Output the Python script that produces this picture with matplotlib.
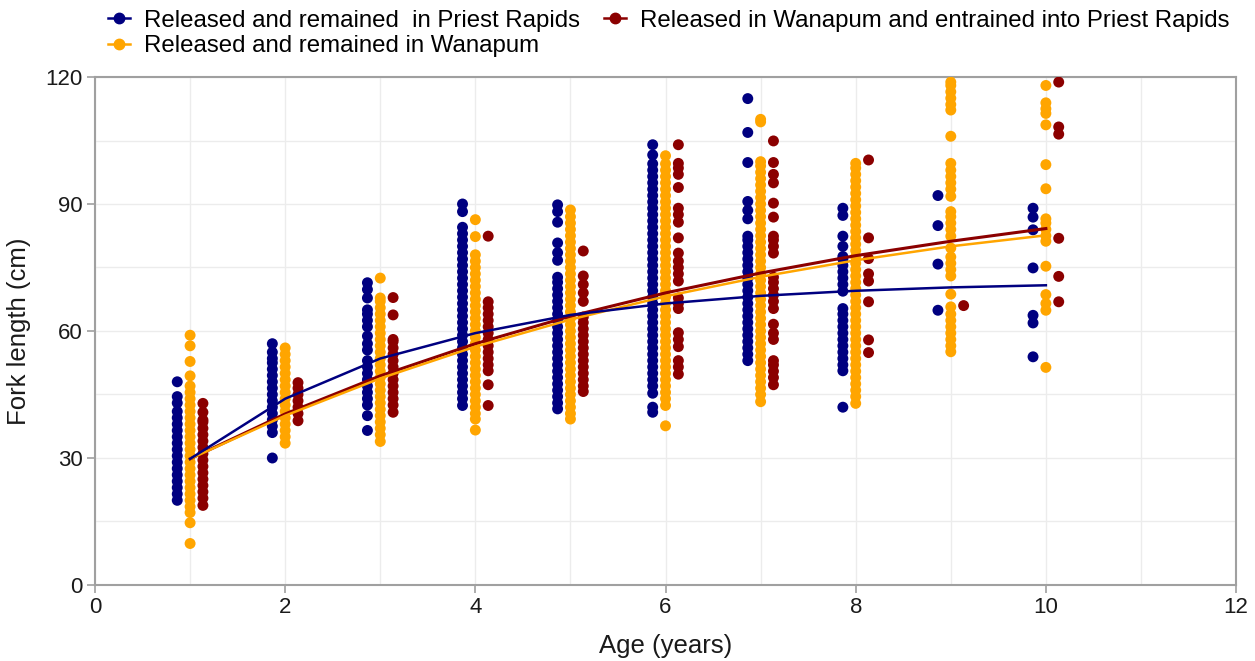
import matplotlib
matplotlib.use("Agg")
import matplotlib.pyplot as plt
from matplotlib.lines import Line2D

plt.rcParams['font.family'] = ['Liberation Sans', 'DejaVu Sans']

ages = [1, 2, 3, 4, 5, 6, 7, 8, 9, 10]

# Fork lengths (cm) per age
priest_rapids = [
    [20, 21.5, 23, 24.5, 26, 27.5, 29, 30.5, 32, 33.5, 35, 36.5, 38, 39.5, 41, 43, 44.5, 48],
    [30, 36, 37.5, 39, 40.5, 42, 43.5, 45, 46.5, 48, 49.5, 51, 52.5, 53.5, 55, 57],
    [36.5, 40, 42.5, 44, 45.5, 47, 48.5, 50, 51.5, 53, 55.5, 57, 58.8, 61, 62.5, 64, 65, 67.8, 69.8, 71.4],
    [42.4, 44, 45.5, 47, 48.5, 50, 51.5, 53, 54.5, 56, 57.5, 59, 60.5, 62, 63.5, 65, 66.5, 68, 69.5,
     71, 72.5, 74, 75.5, 77, 78.5, 80, 81.5, 83, 84.5, 88.2, 90],
    [41.6, 43, 44.5, 46, 47.5, 49, 50.5, 52, 53.5, 55, 56.5, 58, 59.5, 61, 62.5, 64, 65.5, 67, 68.5,
     70, 71.5, 72.7, 76.7, 78.5, 80.8, 85.7, 88.2, 89.8],
    [40.8, 42, 45.3, 47, 48.5, 50, 51.5, 53, 54.5, 56, 57.5, 59, 60.5, 62, 63.5, 65, 66.5, 68, 69.5,
     71, 72.5, 74, 75.5, 77, 78.5, 80, 81.5, 83, 84.5, 86, 87.5, 89, 90.5, 92, 93.5, 95, 96.5, 98,
     99.5, 101.6, 104],
    [53, 54.5, 56, 57.5, 59, 60.5, 62, 63.5, 65, 66.5, 68, 69.5, 71, 72.5, 74, 75.5, 77, 78.5, 80,
     81.5, 82.4, 86.5, 88.5, 90.6, 99.8, 106.9, 114.9],
    [42, 50.6, 52, 53.5, 55, 56.5, 58, 59.5, 61, 62.5, 64, 65.3, 69.4, 71, 72.5, 74, 75.5, 77, 77.6,
     80, 82.4, 87.3, 89],
    [64.9, 75.8, 84.9, 92],
    [53.9, 61.9, 63.7, 74.9, 83.9, 86.9, 89],
]

wanapum = [
    [9.8, 14.7, 17.1, 18.5, 20, 21.5, 23, 24.5, 26, 27.5, 29, 30.5, 32, 33.5, 35, 36.5, 38, 39.5, 41,
     42.5, 44, 45.5, 47, 49.4, 52.8, 56.5, 59],
    [33.5, 35, 36.5, 38, 39.5, 41, 42.5, 44, 45.5, 47, 48.5, 50, 51.5, 53, 54.5, 56],
    [33.9, 35.5, 37, 38.5, 40, 41.5, 43, 44.5, 46, 47.5, 49, 50.5, 52, 53.5, 55, 56.5, 58, 59.5, 61,
     62.5, 64, 65.5, 67, 67.8, 72.5],
    [36.6, 39.2, 40.5, 42, 43.5, 45, 46.5, 48, 49.5, 51, 52.5, 54, 55.5, 57, 58.5, 60, 61.5, 63,
     64.5, 66, 67.5, 69, 70.5, 72, 73.5, 75, 76.5, 78, 82.3, 86.3],
    [39.2, 40.5, 42, 43.5, 45, 46.5, 48, 49.5, 51, 52.5, 54, 55.5, 57, 58.5, 60, 61.5, 63, 64.5, 66,
     67.5, 69, 70.5, 72, 73.5, 75, 76.5, 78, 79.5, 81, 82.5, 84, 85.5, 87, 88.6],
    [37.6, 42.4, 44, 45.5, 47, 48.5, 50, 51.5, 53, 54.5, 56, 57.5, 59, 60.5, 62, 63.5, 65, 66.5, 68,
     69.5, 71, 72.5, 74, 75.5, 77, 78.5, 80, 81.5, 83, 84.5, 86, 87.5, 89, 90.5, 92, 93.5, 95, 96.5,
     98, 99.5, 101.4],
    [43.3, 45, 46.5, 48, 49.5, 51, 52.5, 54, 55.5, 57, 58.5, 60, 61.5, 63, 64.5, 66, 67.5, 69, 70.5,
     72, 73.5, 75, 76.5, 78, 79.5, 81, 82.5, 84, 85.5, 87, 88.5, 90, 91.5, 93, 94.5, 96, 97.5, 99,
     100, 109.4, 110],
    [42.9, 44.5, 46, 47.5, 49, 50.5, 52, 53.5, 55, 56.5, 58, 59.5, 61, 62.5, 64, 65.5, 67, 68.5, 70,
     71.5, 73, 74.5, 76, 77.5, 79, 80.5, 82, 83.5, 85, 86.5, 88, 89.5, 91, 92.5, 94, 95.5, 97, 98.5,
     99.6],
    [55.1, 56.5, 58, 59.5, 61, 62.5, 64, 65.7, 68.7, 73, 74.5, 76, 77.5, 79.6, 82.4, 84, 85.5, 87,
     88.2, 91.8, 93.5, 95, 96.5, 98, 99.6, 106, 112.2, 113.5, 115, 116.5, 118, 118.8],
    [51.4, 64.9, 66.5, 68.6, 75.3, 81.2, 82.5, 84, 85.5, 86.5, 93.6, 99.3, 108.7, 111.4, 112.5,
     113.9, 118],
]

entrained = [
    [18.8, 20.5, 22, 23.5, 25, 26.5, 28, 29.5, 31, 32.5, 34, 35.5, 37, 38.5, 39, 40.8, 42.9],
    [38.8, 40.5, 42, 43.5, 45, 46.5, 47.8],
    [40.8, 42.5, 44, 45.5, 47, 48.5, 50, 51.5, 53, 54.5, 56, 57.5, 58, 63.8, 67.9],
    [42.4, 47.3, 50.6, 52, 53.5, 55, 56.5, 58, 59.5, 61, 62.5, 64, 65.5, 66.9, 82.4],
    [45.7, 47, 48.5, 50, 51.5, 53, 54.5, 56, 57.5, 59, 60.5, 62, 63.3, 67, 69, 71, 73, 78.9],
    [49.8, 51.5, 53, 56.3, 58, 59.6, 65.3, 66.5, 67.8, 71.8, 73.5, 75, 76.5, 78.4, 82, 85.7, 87.5,
     89, 93.9, 97, 98.5, 99.6, 104],
    [47.3, 49, 50.5, 52, 53, 58, 59.5, 61.6, 65.3, 67, 68.5, 70, 71.5, 72.7, 78.4, 80, 81.5, 82.4,
     86.9, 90.2, 95, 97, 99.8, 104.9],
    [54.9, 57.9, 66.9, 71.8, 73.5, 77.1, 82, 100.4],
    [66],
    [66.9, 72.9, 81.9, 106.5, 108.2, 118.8],
]

# Fitted growth curves evaluated at each age
fit_priest_rapids = [29.8, 44.0, 53.5, 59.5, 63.8, 66.5, 68.3, 69.5, 70.3, 70.8]
fit_wanapum = [29.8, 40.0, 48.8, 56.3, 62.7, 68.2, 72.8, 76.7, 80.0, 82.6]
fit_entrained = [29.8, 40.4, 49.4, 57.0, 63.5, 69.0, 73.7, 77.8, 81.2, 84.2]

labels = ["Released and remained  in Priest Rapids",
          "Released and remained in Wanapum",
          "Released in Wanapum and entrained into Priest Rapids"]
colors = ["#000080", "#FFA500", "#8B0000"]
offsets = [-0.135, 0.0, 0.135]

fig = plt.figure(figsize=(12.55, 6.61), dpi=100)
ax = fig.add_axes([0.0757, 0.115, 0.9092, 0.7685])

for data, col, off in zip([priest_rapids, wanapum, entrained], colors, offsets):
    xs, ys = [], []
    for a, vals in zip(ages, data):
        xs += [a + off] * len(vals)
        ys += vals
    ax.scatter(xs, ys, s=62, color=col, edgecolors='none', zorder=3, clip_on=True)

ax.plot(ages, fit_entrained, color=colors[2], lw=2.2, zorder=4)
ax.plot(ages, fit_wanapum, color=colors[1], lw=1.8, zorder=5)
ax.plot(ages, fit_priest_rapids, color=colors[0], lw=1.8, zorder=6)

ax.set_xlim(0, 12)
ax.set_ylim(0, 120)
ax.set_xticks(range(0, 13, 2))
ax.set_yticks(range(0, 121, 30))
ax.set_xticks(range(0, 13, 1), minor=True)
ax.set_yticks(range(0, 121, 15), minor=True)
ax.grid(which='both', color='#ececec', lw=1.0, zorder=0)
ax.set_axisbelow(True)
for sp in ax.spines.values():
    sp.set_color('#a0a0a0')
    sp.set_linewidth(1.5)
ax.tick_params(which='major', axis='both', colors='#a0a0a0', length=6, width=1.2,
               labelcolor='#1a1a1a', labelsize=16, pad=3)
ax.tick_params(which='minor', length=0)
ax.set_xlabel("Age (years)", fontsize=18.5, color='#1a1a1a', labelpad=11)
ax.set_ylabel("Fork length (cm)", fontsize=18.5, color='#1a1a1a', labelpad=10)

handles = [Line2D([0], [0], color=c, lw=1.8, marker='o', markersize=7.5) for c in colors]
fig.legend(handles, labels,
           loc='upper left', bbox_to_anchor=(0.069, 1.018), ncol=2, frameon=False,
           fontsize=17.3, handlelength=0.9, handletextpad=0.6, columnspacing=1.0,
           labelspacing=0.15)

fig.savefig("out.png", dpi=100)
